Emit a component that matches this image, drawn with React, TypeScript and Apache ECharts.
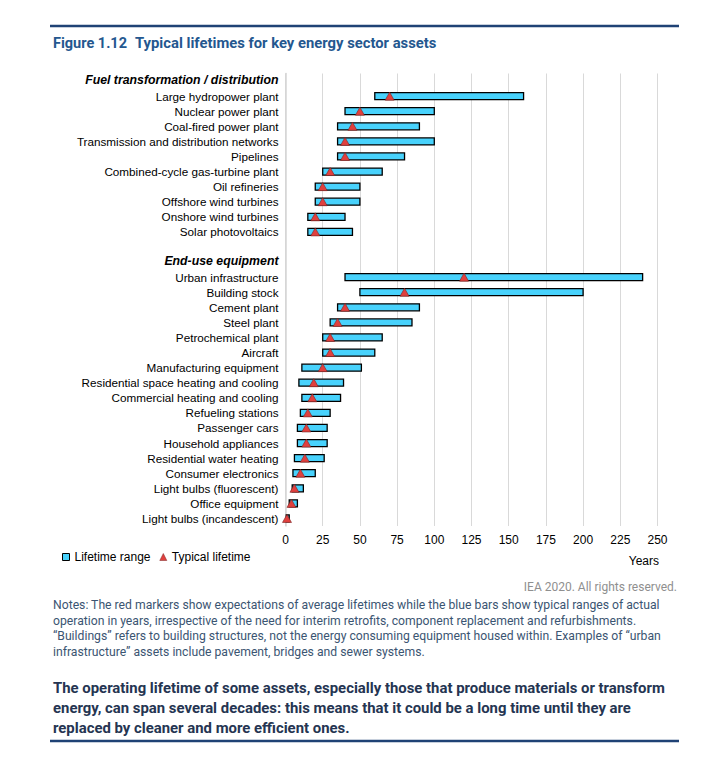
import React, { useEffect, useRef } from "react";
import * as echarts from "echarts";

const categories = [
  "Fuel transformation / distribution",
  "Large hydropower plant",
  "Nuclear power plant",
  "Coal-fired power plant",
  "Transmission and distribution networks",
  "Pipelines",
  "Combined-cycle gas-turbine plant",
  "Oil refineries",
  "Offshore wind turbines",
  "Onshore wind turbines",
  "Solar photovoltaics",
  "",
  "End-use equipment",
  "Urban infrastructure",
  "Building stock",
  "Cement plant",
  "Steel plant",
  "Petrochemical plant",
  "Aircraft",
  "Manufacturing equipment",
  "Residential space heating and cooling",
  "Commercial heating and cooling",
  "Refueling stations",
  "Passenger cars",
  "Household appliances",
  "Residential water heating",
  "Consumer electronics",
  "Light bulbs (fluorescent)",
  "Office equipment",
  "Light bulbs (incandescent)",
];

const headers = ["Fuel transformation / distribution", "End-use equipment"];

const rangeStart = [null, 60, 40, 35, 35, 35, 25, 20, 20, 15, 15, null, null, 40, 50, 35, 30, 25, 25, 11, 9, 11, 10, 8, 8, 6, 5, 4.5, 2.5, 0.5];
const rangeEnd = [null, 160, 100, 90, 100, 80, 65, 50, 50, 40, 45, null, null, 240, 200, 90, 85, 65, 60, 51, 39, 37, 30, 28, 28, 26, 20, 12, 8, 2.5];
const typical = [null, 70, 50, 45, 40, 40, 30, 25, 25, 20, 20, null, null, 120, 80, 40, 35, 30, 30, 25, 19, 18, 15, 14, 14, 13, 10, 6, 4, 1];

const xTicks = { min: 0, max: 250, interval: 25 };

const titleNum = "Figure 1.12";
const titleText = "Typical lifetimes for key energy sector assets";
const copyright = "IEA 2020. All rights reserved.";
const notes = [
  "Notes: The red markers show expectations of average lifetimes while the blue bars show typical ranges of actual",
  "operation in years, irrespective of the need for interim retrofits, component replacement and refurbishments.",
  "\u201cBuildings\u201d refers to building structures, not the energy consuming equipment housed within. Examples of \u201curban",
  "infrastructure\u201d assets include pavement, bridges and sewer systems.",
];
const takeaway = [
  "The operating lifetime of some assets, especially those that produce materials or transform",
  "energy, can span several decades: this means that it could be a long time until they are",
  "replaced by cleaner and more efficient ones.",
];

const BAR_FILL = "#48D2FC";
const TRI_FILL = "#E0403E";
const LABEL_FONT = "'Liberation Sans', Arial, sans-serif";
const TEXT_FONT = "Roboto, 'Noto Sans', sans-serif";

export default function App() {
  const ref = useRef<HTMLDivElement>(null);

  useEffect(() => {
    if (!ref.current) return;
    const chart = echarts.init(ref.current, null, { renderer: "svg" });

    const rangeData: any[] = [];
    const typData: any[] = [];
    categories.forEach((c, i) => {
      if (rangeStart[i] != null && rangeEnd[i] != null) rangeData.push([i, rangeStart[i], rangeEnd[i]]);
      if (typical[i] != null) typData.push([typical[i], i]);
    });

    const graphic: any[] = [
      { type: "line", shape: { x1: 50, y1: 26, x2: 679, y2: 26 }, style: { stroke: "#1f4275", lineWidth: 2.5 } },
      {
        type: "text", x: 53, y: 43,
        style: { text: titleNum, fill: "#24578f", font: `bold 14.5px ${TEXT_FONT}`, textVerticalAlign: "middle" },
      },
      {
        type: "text", x: 135, y: 43,
        style: { text: titleText, fill: "#24578f", font: `bold 14.8px ${TEXT_FONT}`, textVerticalAlign: "middle" },
      },
      {
        type: "text", x: 659, y: 561,
        style: { text: "Years", fill: "#000", font: `12px ${LABEL_FONT}`, textAlign: "right", textVerticalAlign: "middle" },
      },
      {
        type: "text", x: 677, y: 587,
        style: { text: copyright, fill: "#8f8f8f", font: `12px ${TEXT_FONT}`, textAlign: "right", textVerticalAlign: "middle" },
      },
      ...notes.map((t, i) => ({
        type: "text", x: 53, y: 605 + i * 15.6,
        style: { text: t, fill: "#3b5572", font: `12.2px ${TEXT_FONT}`, textVerticalAlign: "middle" },
      })),
      ...takeaway.map((t, i) => ({
        type: "text", x: 53, y: 688 + i * 20,
        style: { text: t, fill: "#253552", font: `bold 14.9px ${TEXT_FONT}`, textVerticalAlign: "middle" },
      })),
      { type: "line", shape: { x1: 50, y1: 741, x2: 679, y2: 741 }, style: { stroke: "#1f4275", lineWidth: 2.5 } },
    ];

    chart.setOption({
      animation: false,
      backgroundColor: "#fff",
      grid: { left: 285.5, right: 69.5, top: 73.5, bottom: 237, containLabel: false },
      legend: {
        left: 62, top: 551, padding: 0, itemWidth: 7, itemHeight: 7, itemGap: 9,
        textStyle: { fontFamily: LABEL_FONT, fontSize: 12, color: "#000" },
        data: [
          { name: "Lifetime range", icon: "rect", itemStyle: { color: BAR_FILL, borderColor: "#000", borderWidth: 1 } },
          { name: "Typical lifetime", icon: "triangle", itemStyle: { color: TRI_FILL, borderColor: "#7a2222", borderWidth: 0.5 } },
        ],
      },
      xAxis: {
        type: "value", min: xTicks.min, max: xTicks.max, interval: xTicks.interval,
        axisLine: { show: false }, axisTick: { show: false },
        splitLine: { show: true, lineStyle: { color: "#d9d9d9", width: 1 } },
        axisLabel: { fontFamily: LABEL_FONT, fontSize: 12, color: "#000", margin: 8 },
      },
      yAxis: {
        type: "category", inverse: true, data: categories,
        axisLine: { show: true, lineStyle: { color: "#d4d4d4", width: 1.5 } },
        axisTick: { show: false },
        splitLine: { show: false },
        axisLabel: {
          interval: 0, margin: 7, fontFamily: LABEL_FONT, fontSize: 11.7, color: "#000",
          formatter: (v: string) => (headers.includes(v) ? `{h|${v}}` : v),
          rich: {
            h: { fontFamily: LABEL_FONT, fontSize: 12.3, fontWeight: "bold", fontStyle: "italic", color: "#000", padding: [0, 0, 3, 0] },
          },
        },
      },
      series: [
        {
          name: "Lifetime range",
          type: "custom",
          data: rangeData,
          encode: { x: [1, 2], y: 0 },
          itemStyle: { color: BAR_FILL, borderColor: "#000", borderWidth: 1 },
          renderItem: (params: any, api: any) => {
            const cat = api.value(0);
            const p1 = api.coord([api.value(1), cat]);
            const p2 = api.coord([api.value(2), cat]);
            const h = 7;
            return {
              type: "rect",
              shape: { x: p1[0], y: p1[1] - h / 2, width: p2[0] - p1[0], height: h },
              style: { fill: BAR_FILL, stroke: "#000", lineWidth: 1.3 },
            };
          },
          z: 2,
        },
        {
          name: "Typical lifetime",
          type: "scatter",
          data: typData,
          symbol: "triangle",
          symbolSize: [9, 8],
          itemStyle: { color: TRI_FILL, borderColor: "#7a2222", borderWidth: 0.6, opacity: 1 },
          z: 3,
        },
      ],
      graphic,
    });

    return () => chart.dispose();
  }, []);

  return (
    <div
      ref={ref}
      style={{ position: "absolute", left: 0, top: 0, width: 727, height: 763 }}
    />
  );
}
